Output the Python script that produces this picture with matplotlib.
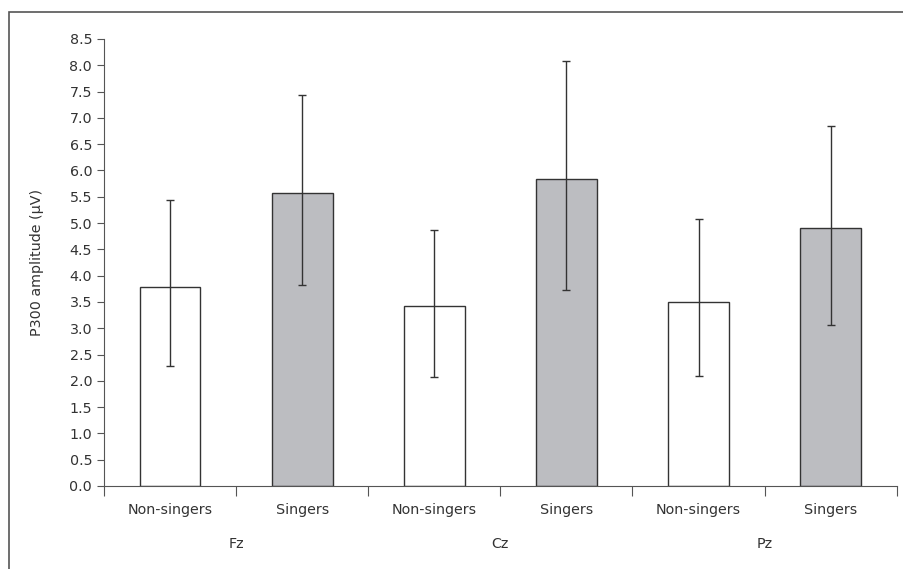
import numpy as np
import matplotlib
matplotlib.use("Agg")
import matplotlib.pyplot as plt
from matplotlib.patches import Rectangle
import matplotlib.transforms as mtransforms

# Datos
grupos = ["Non-singers", "Singers", "Non-singers", "Singers", "Non-singers", "Singers"]
electrodos = ["Fz", "Cz", "Pz"]
medias = [3.79, 5.58, 3.43, 5.84, 3.50, 4.91]
err_sup = [5.43, 7.44, 4.87, 8.08, 5.08, 6.84]
err_inf = [2.29, 3.82, 2.07, 3.73, 2.09, 3.07]
colores = ["white", "#bcbdc1", "white", "#bcbdc1", "white", "#bcbdc1"]

plt.rcParams['font.family'] = ['DejaVu Sans']

fig = plt.figure(figsize=(9.04, 5.69), dpi=100)
ax = fig.add_axes([0.115, 0.1459, 0.877, 0.7856])

# marco exterior
fig.patches.append(Rectangle((9 / 904, -0.05), 0.99, 1 - 12 / 569 + 0.05,
                             transform=fig.transFigure, fill=False,
                             edgecolor="#555555", linewidth=1.2))

x = np.arange(len(medias))
yerr = [np.array(medias) - np.array(err_inf), np.array(err_sup) - np.array(medias)]
ax.bar(x, medias, width=0.46, color=colores, edgecolor="#333333", linewidth=1.0, zorder=2)
ax.errorbar(x, medias, yerr=yerr, fmt="none", ecolor="#333333", elinewidth=1.0,
            capsize=3, capthick=1.0, zorder=3)

ax.set_xlim(-0.5, 5.5)
ax.set_ylim(0, 8.5)
ax.set_yticks(np.arange(0, 8.51, 0.5))
ax.set_yticklabels([f"{v:.1f}" for v in np.arange(0, 8.51, 0.5)])
ax.set_xticks(np.arange(-0.5, 5.6, 1.0))
ax.set_xticklabels([])
ax.tick_params(axis="x", length=7, color="#555555")
ax.tick_params(axis="y", length=5, color="#555555", labelsize=10.3, colors="#333333")
for s in ["top", "right"]:
    ax.spines[s].set_visible(False)
for s in ["left", "bottom"]:
    ax.spines[s].set_color("#555555")

trans = mtransforms.blended_transform_factory(ax.transData, fig.transFigure)
for i, g in enumerate(grupos):
    ax.text(x[i], 1 - 510 / 569, g, transform=trans, ha="center", va="center",
            fontsize=10.3, color="#333333")
for j, e in enumerate(electrodos):
    ax.text(2 * j + 0.5, 1 - 544 / 569, e, transform=trans, ha="center", va="center",
            fontsize=10.3, color="#333333")

ax.set_ylabel("P300 amplitude (μV)", fontsize=10.3, color="#333333", labelpad=18)

fig.savefig("out.png", dpi=100)
